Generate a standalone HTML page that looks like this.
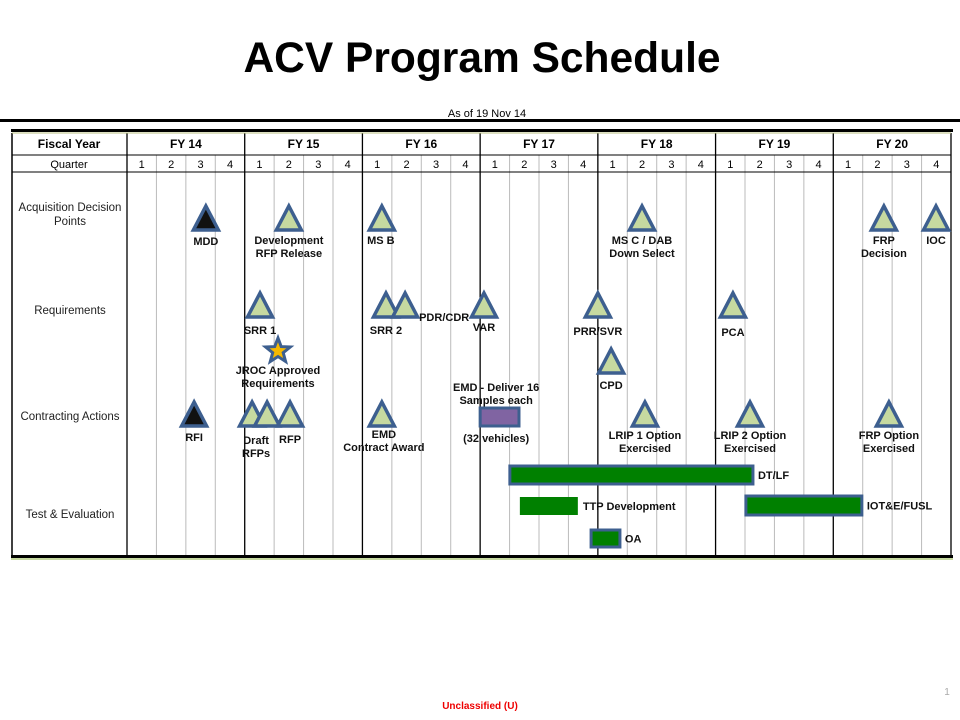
<!DOCTYPE html>
<html><head><meta charset="utf-8"><style>
body{margin:0;background:#fff;}
svg{display:block;font-family:"Liberation Sans",Arial,sans-serif;}
.b{font-weight:bold;font-size:11px;fill:#111;}
</style></head><body>
<svg id="c" width="960" height="720">
<text x="482" y="72" text-anchor="middle" font-size="42.5" font-weight="bold">ACV Program Schedule</text>
<text x="487" y="117" text-anchor="middle" font-size="11">As of 19 Nov 14</text>
<rect x="0" y="119" width="960" height="3" fill="#000"/>
<g id="grid"></g>
<g id="marks"></g>
<text x="947" y="695" text-anchor="middle" font-size="10" fill="#aaa">1</text>
<text x="480" y="709" text-anchor="middle" font-size="10" font-weight="bold" fill="#e00">Unclassified (U)</text>
</svg>
<script>
const fiscalYears=["FY 14","FY 15","FY 16","FY 17","FY 18","FY 19","FY 20"];
const quarterLabels=["1","2","3","4"];
const rowLabels=[["Acquisition Decision","Points"],["Requirements"],["Contracting Actions"],["Test & Evaluation"]];
const milestoneNames=["MDD","Development|RFP Release","MS B","MS C / DAB|Down Select","FRP|Decision","IOC","SRR 1","SRR 2","PDR/CDR","VAR","PRR/SVR","PCA","CPD","RFI","Draft|RFPs","","RFP","EMD|Contract  Award","LRIP 1 Option|Exercised","LRIP 2 Option|Exercised","FRP Option|Exercised"];
const milestoneQuarters=[2.68,5.5,8.66,17.5,25.72,27.49,4.52,8.8,9.45,12.13,16.0,20.59,16.45,2.28,4.25,4.76,5.54,8.66,17.6,21.17,25.89];
const milestoneRows=[0,0,0,0,0,0,1,1,1,1,1,1,5,2,2,2,2,2,2,2,2];
const milestoneFills=["#111","#c6d9a0","#c6d9a0","#c6d9a0","#c6d9a0","#c6d9a0","#c6d9a0","#c6d9a0","#c6d9a0","#c6d9a0","#c6d9a0","#c6d9a0","#c6d9a0","#111","#c6d9a0","#c6d9a0","#c6d9a0","#c6d9a0","#c6d9a0","#c6d9a0","#c6d9a0"];
const barNames=["EMD","DT/LF","TTP Development","IOT&E/FUSL","OA"];
const barStarts=[12.0,13.01,13.35,21.03,15.77];
const barEnds=[13.32,21.27,15.32,24.97,16.75];
const starName="JROC Approved|Requirements";
const starQuarter=5.13;

const X0=127,X1=951,QW=(X1-X0)/28;
const x=q=>X0+q*QW;
const rowApex=[207,294,403,0,0,350];
const labelDx={2:-1,8:14,14:4,17:2};
const labelY={0:245,1:244,2:244,3:244,4:244,5:244,6:334,7:334,8:321,9:331,10:335,11:336,12:389,13:441,14:444,16:443,17:438,18:439,19:439,20:439};
const barY=[408,466,497,496,530];
const barH=[18,18,18,19,17];
const barFill=["#8064a2","#008000","#008000","#008000","#008000"];
const barBorder=[true,true,false,true,true];
const NS="http://www.w3.org/2000/svg";
function mk(p,t,a,txt){const e=document.createElementNS(NS,t);for(const k in a)e.setAttribute(k,a[k]);if(txt!==undefined)e.textContent=txt;p.appendChild(e);return e;}
const g=document.getElementById('grid'),m=document.getElementById('marks');
for(let i=1;i<28;i++){if(i%4===0)continue;const l=mk(g,'line',{x1:x(i),x2:x(i),y1:155,y2:556,stroke:'#bbb','stroke-width':1});

}
for(let i=0;i<=7;i++){const l=mk(g,'line',{x1:x(i*4),x2:x(i*4),y1:133,y2:556,stroke:'#000','stroke-width':1.3});

}
mk(g,'line',{x1:12,x2:12,y1:133,y2:556,stroke:'#000','stroke-width':1.5});
mk(g,'line',{x1:12,x2:951,y1:155,y2:155,stroke:'#000','stroke-width':1});
mk(g,'line',{x1:12,x2:951,y1:172,y2:172,stroke:'#000','stroke-width':1});
mk(g,'rect',{x:11,y:129,width:942,height:3,fill:'#000'});
mk(g,'line',{x1:12,x2:951,y1:133,y2:133,stroke:'#b8bf80','stroke-width':1});
mk(g,'rect',{x:11,y:555,width:942,height:3,fill:'#000'});
mk(g,'rect',{x:11,y:558,width:942,height:2,fill:'#c6d9a0'});
let t=mk(g,'text',{x:69,y:148,'text-anchor':'middle','font-size':12,'font-weight':'bold'},'Fiscal Year');


t=mk(g,'text',{x:69,y:168,'text-anchor':'middle','font-size':11},'Quarter');


fiscalYears.forEach((f,i)=>{const e=mk(g,'text',{x:x(i*4+2),y:148,'text-anchor':'middle','font-size':12,'font-weight':'bold'},f);


quarterLabels.forEach((q,j)=>{const e2=mk(g,'text',{x:x(i*4+j+0.5),y:168,'text-anchor':'middle','font-size':11},q);

});});
const rowY=[[211,225],[314],[420],[518]];
rowLabels.forEach((r,i)=>r.forEach((s,j)=>{const e=mk(g,'text',{x:70,y:rowY[i][j],'text-anchor':'middle','font-size':11.5,fill:'#222'},s);

}));
function lines(txt,cx,y,anchor){txt.split('|').forEach((s,i)=>{if(!s)return;const e=mk(m,'text',{x:cx,y:y+i*13,'text-anchor':anchor||'middle',class:'b'},s);

});}
milestoneQuarters.forEach((q,i)=>{const cx=x(q),ay=rowApex[milestoneRows[i]];
const p=mk(m,'polygon',{points:`${cx},${ay-1} ${cx-12.5},${ay+23} ${cx+12.5},${ay+23}`,fill:milestoneFills[i],stroke:'#3d5f8f','stroke-width':3.5,'stroke-linejoin':'miter'});


if(milestoneNames[i]){const anchor=i===8?'start':'middle';lines(milestoneNames[i],cx+(labelDx[i]||0),labelY[i],anchor);}});
(function(){const cx=x(starQuarter),cy=351;let pts=[];for(let k=0;k<10;k++){const r=k%2?5.5:13,a=-Math.PI/2+k*Math.PI/5;pts.push((cx+r*Math.cos(a)).toFixed(1)+','+(cy+r*Math.sin(a)).toFixed(1));}
const s=mk(m,'polygon',{points:pts.join(' '),fill:'#f5b800',stroke:'#3d5f8f','stroke-width':3});


lines(starName,cx,374);})();
barStarts.forEach((s,i)=>{const x0=x(s),x1=x(barEnds[i]);
const r=mk(m,'rect',{x:x0,y:barY[i],width:x1-x0,height:barH[i],fill:barFill[i],stroke:barBorder[i]?'#3d5f8f':'none','stroke-width':3});


if(i>0){const e=mk(m,'text',{x:x1+5,y:barY[i]+barH[i]/2+4,class:'b'},barNames[i]);

}});
lines("EMD - Deliver 16|Samples each",x(barStarts[0])+16,391);
lines("(32 vehicles)",x(barStarts[0])+16,442);
</script>
</body></html>
